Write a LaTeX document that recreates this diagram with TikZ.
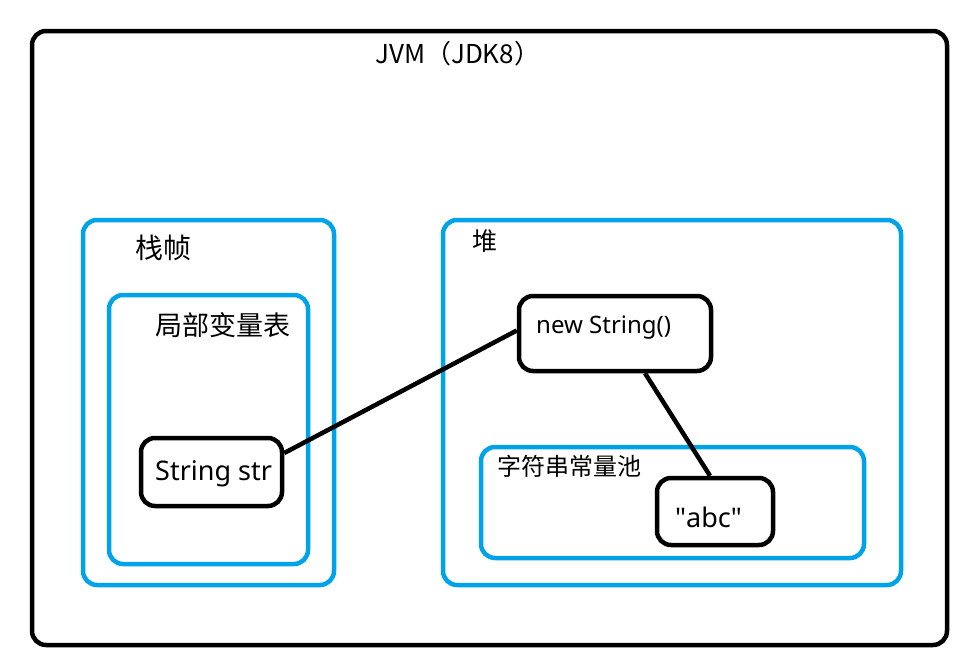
\documentclass[tikz,border=0pt]{standalone}
\usepackage{fontspec}
\setmainfont{Noto Sans}
\newfontfamily\cjk{Noto Sans CJK SC}
\usepackage{xcolor}
\usepackage{tikz}
\definecolor{paintblue}{RGB}{0,162,232}

\begin{document}
\begin{tikzpicture}[x=1pt,y=-1pt,
        area/.style={draw=paintblue, line width=4.5pt, rounded corners=14pt, inner sep=0pt},
        obj/.style={draw=black, line width=4.5pt, rounded corners=14pt, inner sep=0pt},
        lbl/.style={anchor=base west, inner sep=0pt},
        link/.style={draw=black, line width=4.5pt}]
        \useasboundingbox (0,0) rectangle (975,670);

        % jvm
        \node[obj, minimum width=915pt, minimum height=614pt] (jvm) at (489.5,338) {};
        \node[lbl, font=\cjk\fontsize{26}{26}\selectfont] (jvmlabel) at (375,63) {JVM（JDK8）};

        % stack frame
        \node[area, minimum width=251pt, minimum height=365pt] (frame) at (208.5,402.5) {};
        \node[lbl, font=\cjk\fontsize{28}{28}\selectfont] (framelabel) at (135,258) {栈帧};
        \node[area, minimum width=199pt, minimum height=269pt] (locals) at (208.5,429.5) {};
        \node[lbl, font=\cjk\fontsize{27}{27}\selectfont] (localslabel) at (155,335) {局部变量表};
        \node[obj, minimum width=141pt, minimum height=68pt] (str) at (211.5,472) {};
        \node[lbl, font=\fontsize{27}{27}\selectfont] (strlabel) at (155,480) {String str};

        % heap
        \node[area, minimum width=458pt, minimum height=365pt] (heap) at (672,402.5) {};
        \node[lbl, font=\cjk\fontsize{25}{25}\selectfont] (heaplabel) at (472,250) {堆};
        \node[obj, minimum width=192pt, minimum height=75pt] (newstr) at (615,333.5) {};
        \node[lbl, font=\fontsize{24}{24}\selectfont] (newstrlabel) at (536,333) {new String()};
        \node[area, minimum width=383pt, minimum height=111pt] (pool) at (672.5,502.5) {};
        \node[lbl, font=\cjk\fontsize{24}{24}\selectfont] (poollabel) at (497,475) {字符串常量池};
        \node[obj, minimum width=116pt, minimum height=67pt] (abc) at (715,511.5) {};
        \node[lbl, font=\fontsize{27}{27}\selectfont] (abclabel) at (675,527) {\textquotedbl abc\textquotedbl};

        % links
        \draw[link] ([yshift=19pt]str.east) -- ([yshift=3pt]newstr.west);
        \draw[link] ([xshift=30pt]newstr.south) -- ([xshift=-5pt]abc.north);
    \end{tikzpicture}
\end{document}
